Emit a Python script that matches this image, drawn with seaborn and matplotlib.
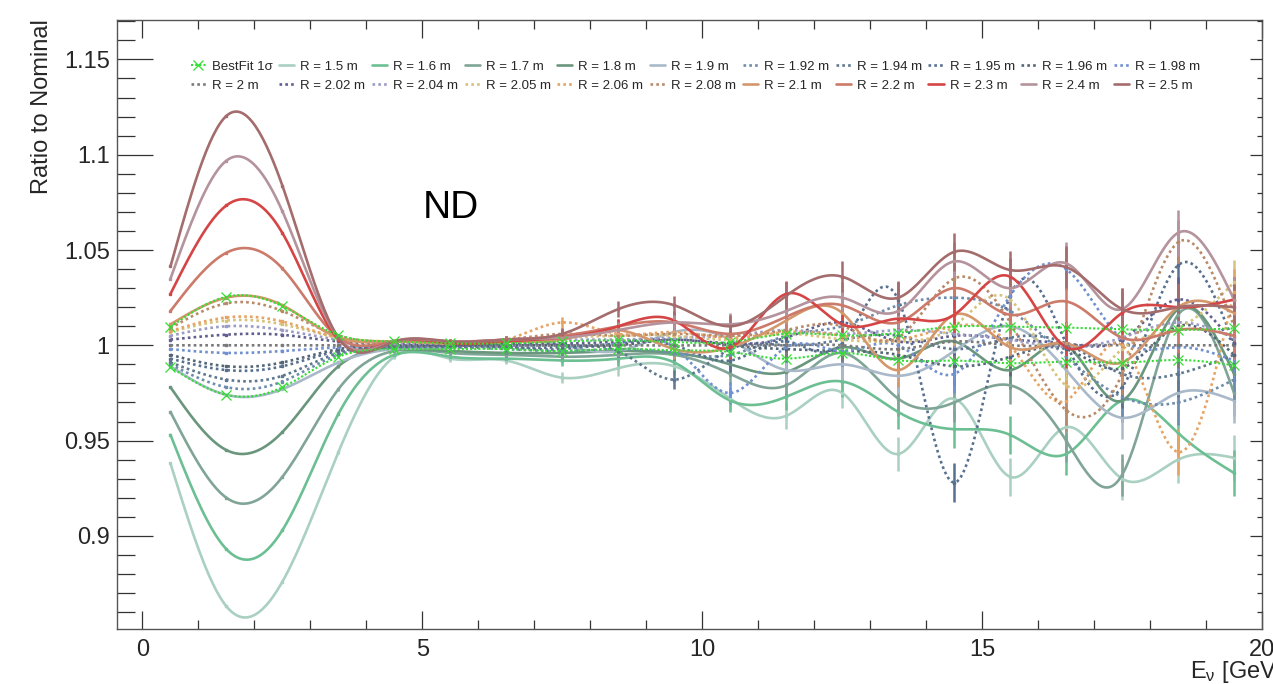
import numpy as np
import pandas as pd
import matplotlib
matplotlib.use("Agg")
import matplotlib.pyplot as plt
from matplotlib.lines import Line2D
from matplotlib.ticker import MultipleLocator, FixedLocator
import seaborn as sns

# ---------------- data ----------------
energy = [0.5, 1.5, 2.5, 3.5, 4.5, 5.5, 6.5, 7.5, 8.5, 9.5,
          10.5, 11.5, 12.5, 13.5, 14.5, 15.5, 16.5, 17.5, 18.5, 19.5]

bestfit_up = [1.0096, 1.0255, 1.0205, 1.0054, 1.002, 1.001, 1.001, 1.002, 1.0026, 1.0017,
              1.0017, 1.0061, 1.0052, 1.0065, 1.0098, 1.0098, 1.0093, 1.0084, 1.008, 1.0089]
bestfit_dn = [0.9885, 0.974, 0.978, 0.994, 0.998, 0.998, 0.998, 0.997, 0.9982, 0.9974,
              0.9965, 0.993, 0.996, 0.9921, 0.992, 0.9906, 0.9914, 0.9909, 0.9923, 0.9895]

r150 = [0.938, 0.863, 0.876, 0.944, 0.994, 0.993, 0.992, 0.983, 0.988, 0.989,
        0.972, 0.963, 0.975, 0.943, 0.972, 0.931, 0.957, 0.930, 0.940, 0.941]
r160 = [0.953, 0.893, 0.903, 0.964, 0.995, 0.994, 0.993, 0.992, 0.993, 0.991,
        0.971, 0.973, 0.981, 0.965, 0.956, 0.953, 0.943, 0.971, 0.954, 0.933]
r170 = [0.965, 0.920, 0.931, 0.977, 0.997, 0.996, 0.995, 0.994, 0.995, 0.995,
        0.985, 0.979, 0.996, 0.972, 0.970, 0.979, 0.950, 0.932, 1.016, 0.975]
r180 = [0.978, 0.945, 0.9545, 0.989, 0.998, 0.997, 0.996, 0.996, 0.997, 0.996,
        0.990, 0.986, 0.999, 0.993, 1.002, 0.987, 1.000, 0.971, 1.019, 0.985]
r190 = [0.989, 0.974, 0.977, 0.991, 0.998, 0.999, 1.003, 1.000, 0.997, 1.007,
        1.003, 0.987, 0.990, 0.984, 0.997, 1.010, 0.987, 0.962, 0.975, 0.971]
r192 = [0.990, 0.978, 0.981, 0.995, 0.999, 0.999, 0.998, 0.997, 0.998, 0.996,
        0.995, 1.005, 1.010, 1.021, 1.025, 1.018, 0.994, 0.973, 0.970, 0.982]
r194 = [0.991, 0.982, 0.984, 0.996, 0.999, 0.999, 0.999, 0.998, 0.997, 0.982,
        0.998, 1.000, 1.003, 1.005, 0.998, 1.004, 1.001, 0.985, 0.985, 0.995]
r195 = [0.993, 0.987, 0.989, 0.997, 0.999, 1.000, 0.999, 0.999, 1.001, 1.000,
        0.992, 1.002, 1.001, 1.024, 0.928, 1.026, 1.001, 0.978, 1.042, 1.001]
r196 = [0.995, 0.989, 0.991, 0.998, 1.000, 1.000, 1.000, 1.000, 1.000, 1.003,
        1.000, 0.998, 0.997, 0.995, 0.989, 0.994, 0.998, 0.988, 1.010, 0.995]
r198 = [0.998, 0.996, 0.997, 0.999, 1.000, 1.000, 1.000, 1.000, 1.001, 0.999,
        0.975, 0.999, 0.997, 1.000, 0.985, 1.026, 1.040, 1.003, 0.999, 0.992]
r200 = [1.000, 1.000, 1.000, 1.000, 1.000, 1.000, 1.000, 1.000, 1.000, 1.000,
        1.000, 1.000, 1.000, 0.998, 1.002, 1.000, 1.000, 1.000, 1.000, 1.000]
r202 = [1.003, 1.0056, 1.0055, 1.002, 1.001, 1.000, 1.001, 1.001, 1.002, 1.003,
        1.001, 1.004, 1.012, 1.002, 1.005, 1.003, 1.001, 1.003, 1.024, 1.001]
r204 = [1.005, 1.010, 1.008, 1.003, 1.001, 1.001, 1.002, 1.003, 1.003, 1.004,
        1.005, 1.008, 1.006, 1.008, 1.006, 1.003, 0.999, 1.004, 1.012, 1.004]
r205 = [1.007, 1.013, 1.011, 1.004, 1.002, 1.001, 1.002, 1.004, 1.005, 1.005,
        1.003, 1.006, 1.003, 1.002, 1.010, 1.024, 0.979, 0.998, 1.009, 1.033]
r206 = [1.0075, 1.0146, 1.0125, 1.004, 1.002, 1.002, 1.003, 1.012, 1.006, 1.007,
        1.004, 1.007, 1.005, 1.003, 1.010, 1.000, 0.971, 1.000, 0.944, 1.028]
r208 = [1.009, 1.022, 1.018, 1.005, 1.002, 1.002, 1.003, 1.006, 1.005, 1.006,
        1.005, 1.008, 1.010, 1.004, 1.035, 1.012, 0.966, 0.985, 1.054, 1.010]
r210 = [1.011, 1.025, 1.021, 1.004, 1.002, 1.001, 1.002, 1.003, 1.008, 0.998,
        0.999, 1.013, 1.017, 0.987, 1.016, 0.999, 1.001, 0.991, 1.020, 1.017]
r220 = [1.018, 1.0486, 1.0403, 1.004, 1.002, 1.002, 1.003, 1.005, 1.010, 1.012,
        1.006, 1.015, 1.021, 1.012, 1.030, 1.016, 1.023, 1.004, 1.008, 1.005]
r230 = [1.027, 1.0734, 1.0589, 1.003, 1.002, 1.001, 1.002, 1.004, 1.010, 1.013,
        0.999, 1.027, 1.011, 1.014, 1.016, 1.036, 0.999, 1.017, 1.020, 1.024]
r240 = [1.035, 1.0969, 1.0703, 1.004, 1.002, 1.002, 1.003, 1.004, 1.008, 1.012,
        1.011, 1.018, 1.025, 1.018, 1.044, 1.030, 1.043, 1.019, 1.059, 1.024]
r250 = [1.0414, 1.1204, 1.0837, 1.004, 1.002, 1.002, 1.003, 1.006, 1.019, 1.021,
        1.010, 1.026, 1.036, 1.025, 1.049, 1.0395, 1.041, 1.019, 1.020, 1.020]

# statistical error per energy bin
stat_err = [0.0004, 0.0005, 0.0006, 0.0008, 0.001, 0.0015, 0.002, 0.003, 0.004, 0.005,
            0.006, 0.007, 0.008, 0.009, 0.010, 0.010, 0.011, 0.011, 0.012, 0.012]

labels = ["R = 1.5 m", "R = 1.6 m", "R = 1.7 m", "R = 1.8 m", "R = 1.9 m",
          "R = 1.92 m", "R = 1.94 m", "R = 1.95 m", "R = 1.96 m", "R = 1.98 m",
          "R = 2 m", "R = 2.02 m", "R = 2.04 m", "R = 2.05 m", "R = 2.06 m", "R = 2.08 m",
          "R = 2.1 m", "R = 2.2 m", "R = 2.3 m", "R = 2.4 m", "R = 2.5 m"]
series = [r150, r160, r170, r180, r190, r192, r194, r195, r196, r198,
          r200, r202, r204, r205, r206, r208, r210, r220, r230, r240, r250]
colors = ["#a9d0c1", "#6cbf93", "#80a597", "#6a967d", "#a9b9c9",
          "#6e8cab", "#5f7890", "#58708f", "#556677", "#7090d0",
          "#7a7a7a", "#5f5f8f", "#9b9bc4", "#d6c27a", "#e6a464", "#b98a6a",
          "#d4976c", "#cc7a6a", "#d64545", "#b4939c", "#a46c6c"]
dotted = [False] * 5 + [True] * 11 + [False] * 5
bestfit_color = "#33dd33"


def smooth(x, y, n=600):
    """Natural cubic spline through the points (ROOT 'C' drawing option)."""
    x = np.asarray(x, float)
    y = np.asarray(y, float)
    m = len(x)
    h = np.diff(x)
    A = np.zeros((m, m))
    b = np.zeros(m)
    A[0, 0] = A[-1, -1] = 1.0
    for i in range(1, m - 1):
        A[i, i - 1] = h[i - 1]
        A[i, i] = 2 * (h[i - 1] + h[i])
        A[i, i + 1] = h[i]
        b[i] = 6 * ((y[i + 1] - y[i]) / h[i] - (y[i] - y[i - 1]) / h[i - 1])
    M = np.linalg.solve(A, b)
    xs = np.linspace(x[0], x[-1], n)
    idx = np.clip(np.searchsorted(x, xs) - 1, 0, m - 2)
    x0, x1 = x[idx], x[idx + 1]
    hh = x1 - x0
    t0, t1 = x1 - xs, xs - x0
    ys = (M[idx] * t0 ** 3 + M[idx + 1] * t1 ** 3) / (6 * hh) \
        + (y[idx] / hh - M[idx] * hh / 6) * t0 + (y[idx + 1] / hh - M[idx + 1] * hh / 6) * t1
    return xs, ys


# ---------------- style ----------------
sns.set_theme(style="white")
plt.rcParams["font.family"] = ["Liberation Sans", "DejaVu Sans"]
plt.rcParams["mathtext.fontset"] = "custom"
plt.rcParams["mathtext.rm"] = "Liberation Sans"
plt.rcParams["mathtext.it"] = "Liberation Sans"

fig = plt.figure(figsize=(12.73, 6.84), dpi=100)
ax = fig.add_axes([0.0917, 0.080, 0.8997, 0.8908])

dot_style = (0, (1.0, 1.2))
handles = []
for vals, lab, col, dt in zip(series, labels, colors, dotted):
    xs, ys = smooth(energy, vals)
    df = pd.DataFrame({"E": xs, "ratio": ys})
    ls = dot_style if dt else "-"
    sns.lineplot(data=df, x="E", y="ratio", ax=ax, color=col, lw=1.9,
                 linestyle=ls, sort=False, estimator=None, legend=False)
    ax.errorbar(energy, vals, yerr=stat_err, fmt="s", ms=2.0, color=col,
                elinewidth=1.8, capsize=0, lw=0)
    handles.append(Line2D([], [], color=col, lw=1.9, linestyle=ls))

for bf in (bestfit_up, bestfit_dn):
    xs, ys = smooth(energy, bf)
    df = pd.DataFrame({"E": xs, "ratio": ys})
    sns.lineplot(data=df, x="E", y="ratio", ax=ax, color=bestfit_color, lw=1.5,
                 linestyle=(0, (1.0, 1.0)), sort=False, estimator=None,
                 legend=False, zorder=5)
    ax.plot(energy, bf, "x", color=bestfit_color, ms=7, mew=0.9, zorder=6)

bf_handle = Line2D([], [], color=bestfit_color, lw=1.5, linestyle=(0, (1.0, 1.0)),
                   marker="x", ms=7, mew=0.9)

# ---------------- axes ----------------
ax.set_xlim(-0.46, 20)
ax.set_ylim(0.851, 1.1707)
ax.set_xlabel("")
ax.set_ylabel("")
ax.xaxis.set_major_locator(FixedLocator([0, 5, 10, 15, 20]))
ax.xaxis.set_minor_locator(MultipleLocator(1))
ax.set_xticklabels(["0", "5", "10", "15", "20"])
ax.yaxis.set_major_locator(FixedLocator([0.9, 0.95, 1.0, 1.05, 1.1, 1.15]))
ax.yaxis.set_minor_locator(MultipleLocator(0.01))
ax.set_yticklabels(["0.9", "0.95", "1", "1.05", "1.1", "1.15"])

tick_col = "#333333"
ax.tick_params(axis="y", which="major", direction="in", length=26, width=0.9,
               color=tick_col, left=True, right=False, labelsize=17, pad=5)
ax.tick_params(axis="y", which="minor", direction="in", length=13, width=0.9,
               color=tick_col, left=True, right=False)
ax.tick_params(axis="x", which="major", direction="in", length=13, width=0.9,
               color=tick_col, top=True, bottom=True, labelsize=17, pad=7)
ax.tick_params(axis="x", which="minor", direction="in", length=6.5, width=0.9,
               color=tick_col, top=True, bottom=True)
for s in ax.spines.values():
    s.set_visible(True)
    s.set_color("#555555")
    s.set_linewidth(1.0)

tw = ax.twinx()
tw.set_ylim(ax.get_ylim())
tw.yaxis.set_major_locator(FixedLocator([0.9, 0.95, 1.0, 1.05, 1.1, 1.15]))
tw.yaxis.set_minor_locator(MultipleLocator(0.01))
tw.tick_params(axis="y", which="major", direction="in", length=9, width=0.9,
               color=tick_col, labelright=False, right=True)
tw.tick_params(axis="y", which="minor", direction="in", length=3.5, width=0.9,
               color=tick_col, right=True)
tw.grid(False)
for s in tw.spines.values():
    s.set_visible(False)

# ---------------- texts ----------------
ax.text(5.0, 1.0668, "ND", fontsize=28, ha="left", va="baseline", color="black")
fig.text(0.033, 0.972, "Ratio to Nominal", rotation=90, ha="center", va="top",
         fontsize=17)
fig.text(1190 / 1273, 0.018, r"E$_{\nu}$ [GeV]", ha="left", va="center", fontsize=17)

# ---------------- legend (2 rows x 11 columns, row-major order) ----------------
row1_h = [bf_handle] + handles[:10]
row1_l = ["BestFit 1σ"] + labels[:10]
row2_h = handles[10:]
row2_l = labels[10:]
leg_h, leg_l = [], []
for i in range(11):
    leg_h += [row1_h[i], row2_h[i]]
    leg_l += [row1_l[i], row2_l[i]]
ax.legend(leg_h, leg_l, ncol=11, loc="upper left", bbox_to_anchor=(0.060, 0.942),
          frameon=False, fontsize=9.5, handlelength=1.15, handletextpad=0.45,
          columnspacing=0.5, labelspacing=0.5, borderaxespad=0)

fig.savefig("out.png", dpi=100)
